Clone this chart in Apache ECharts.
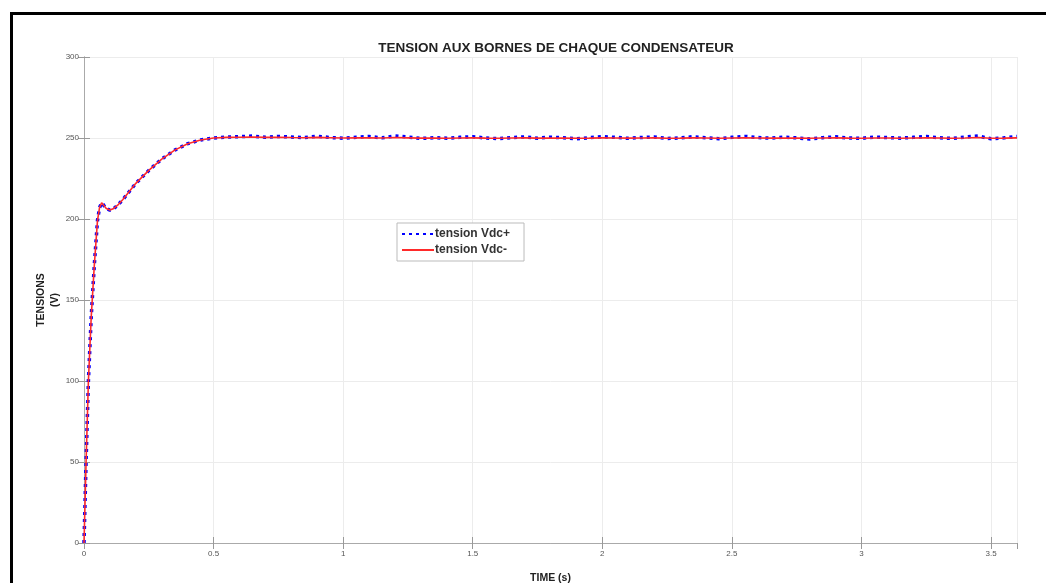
<!DOCTYPE html>
<html><head><meta charset="utf-8">
<script src="https://cdn.jsdelivr.net/npm/echarts@6/dist/echarts.min.js"></script>
<style>html,body{margin:0;padding:0;background:#fff}#c{width:1046px;height:583px}</style>
</head><body><div id="c"></div>
<script>
const chartTitle = 'TENSION AUX BORNES DE CHAQUE CONDENSATEUR';
const seriesNames = ['tension Vdc+', 'tension Vdc-'];
const time = [0,0.008,0.017,0.028,0.04,0.052,0.06,0.068,0.076,0.086,0.1,0.115,0.13,0.15,0.2,0.25,0.3,0.35,0.4,0.45,0.5,0.55,
  0.6,0.65,0.7,0.75,0.8,0.85,0.9,0.95,1,1.05,
  1.1,1.15,1.2,1.25,1.3,1.35,1.4,1.45,1.5,1.55,
  1.6,1.65,1.7,1.75,1.8,1.85,1.9,1.95,2,2.05,
  2.1,2.15,2.2,2.25,2.3,2.35,2.4,2.45,2.5,2.55,
  2.6,2.65,2.7,2.75,2.8,2.85,2.9,2.95,3,3.05,
  3.1,3.15,3.2,3.25,3.3,3.35,3.4,3.45,3.5,3.55,
  3.6];
const vdcPlus = [0,50,100,140,172,199,207,210,208.5,206.5,205.5,206.5,208.5,212,222,230,237,242.5,246.5,248.8,250,250.6,
  250.8,251.2,250.4,251.0,250.6,250.2,251.1,250.3,249.8,250.5,
  250.9,250.1,251.3,250.6,249.7,250.2,249.9,250.4,250.8,250.0,
  249.6,250.3,250.7,249.9,250.5,250.1,249.5,250.2,250.9,250.4,
  249.8,250.3,250.6,249.7,250.0,250.8,250.2,249.6,250.4,251.0,
  250.3,249.9,250.5,250.1,249.4,250.2,250.7,250.0,249.8,250.6,
  250.3,249.9,250.4,250.9,250.2,249.7,250.6,251.2,249.5,250.1,
  250.9];
const vdcMinus = [0,50,100,140,172,199,207,210,208.5,206.5,205.5,206.5,208.5,212,222,230,237,242.5,246.5,248.8,250,250.4,
  250.5,250.6,250.4,250.5,250.3,250.2,250.4,250.2,250.0,250.1,
  250.2,250.0,250.3,250.1,249.9,250.0,249.8,250.0,250.1,249.9,
  249.8,250.0,250.1,249.9,250.0,249.9,249.8,249.9,250.1,250.0,
  249.9,250.0,250.1,249.8,249.9,250.1,250.0,249.8,250.0,250.2,
  250.0,249.9,250.0,249.9,249.8,250.0,250.1,249.9,249.8,250.0,
  250.0,249.8,250.0,250.2,250.0,249.8,250.0,250.3,249.8,249.9,
  250.1];
const xName = 'TIME (s)';
const yName = 'TENSIONS\n(V)';

const chart = echarts.init(document.getElementById('c'), null, {renderer: 'canvas'});
const grid = {left: 84, right: 29, top: 57, bottom: 40, containLabel: false, outerBoundsMode: 'none'};
const labelStyle = {fontSize: 8, color: '#555', fontFamily: 'Liberation Sans, Arial, sans-serif'};
chart.setOption({
  animation: false,
  backgroundColor: '#fff',
  title: {text: chartTitle, left: 551, top: 36, textAlign: 'center',
    textStyle: {fontSize: 13.5, fontWeight: 'bold', color: '#222', fontFamily: 'Liberation Sans, Arial, sans-serif'}},
  graphic: [{type: 'rect', left: 9, top: 11, shape: {width: 1200, height: 800},
    style: {fill: null, stroke: '#000', lineWidth: 3}, silent: true}],
  legend: {
    left: 397, top: 223, orient: 'vertical', itemGap: 4, itemWidth: 32, itemHeight: 12,
    padding: [5, 14, 5, 4], borderColor: '#bbb', borderWidth: 1, backgroundColor: '#fff',
    itemStyle: {opacity: 0},
    textStyle: {fontSize: 12, fontWeight: 'bold', color: '#333', fontFamily: 'Liberation Sans, Arial, sans-serif', padding: [0, 0, 0, -4]},
    data: seriesNames
  },
  grid: grid,
  xAxis: [{
    type: 'value', min: 0, max: 3.6, interval: 0.5,
    name: xName, nameLocation: 'middle', nameGap: 30, nameMoveOverlap: false,
    nameTextStyle: {fontSize: 10.5, fontWeight: 'bold', color: '#222', fontFamily: 'Liberation Sans, Arial, sans-serif'},
    axisLine: {show: true, lineStyle: {color: '#aaa', width: 1}},
    axisTick: {show: true, inside: true, length: 6, lineStyle: {color: '#999'}},
    axisLabel: Object.assign({margin: 7, showMaxLabel: false}, labelStyle),
    splitLine: {show: true, lineStyle: {color: '#ececec', width: 1}}
  }, {
    type: 'value', min: 0, max: 3.6, interval: 0.5, position: 'top',
    axisLine: {show: true, lineStyle: {color: '#aaa', width: 1}},
    axisTick: {show: true, inside: true, length: 6, lineStyle: {color: '#999'}},
    axisLabel: {show: false}, splitLine: {show: false}
  }],
  yAxis: [{
    type: 'value', min: 0, max: 300, interval: 50,
    name: yName, nameLocation: 'middle', nameGap: 22, nameRotate: 90, nameMoveOverlap: false,
    nameTextStyle: {fontSize: 10.5, fontWeight: 'bold', color: '#222', lineHeight: 14, fontFamily: 'Liberation Sans, Arial, sans-serif'},
    axisLine: {show: true, lineStyle: {color: '#aaa', width: 1}},
    axisTick: {show: true, inside: true, length: 6, lineStyle: {color: '#999'}},
    axisLabel: Object.assign({margin: 5}, labelStyle),
    splitLine: {show: true, lineStyle: {color: '#ececec', width: 1}}
  }, {
    type: 'value', min: 0, max: 300, interval: 50, position: 'right',
    axisLine: {show: true, lineStyle: {color: '#aaa', width: 1}},
    axisTick: {show: true, inside: true, length: 6, lineStyle: {color: '#999'}},
    axisLabel: {show: false}, splitLine: {show: false}
  }],
  series: [{
    name: seriesNames[0], type: 'line', showSymbol: false, symbol: 'none',
    data: time.map((t, i) => [t, vdcPlus[i]]),
    itemStyle: {color: '#0000ff'},
    lineStyle: {color: '#0000ff', width: 3.5, type: [3, 4], cap: 'butt'}
  }, {
    name: seriesNames[1], type: 'line', showSymbol: false, symbol: 'none',
    data: time.map((t, i) => [t, vdcMinus[i]]),
    itemStyle: {color: '#ff2a2a'},
    lineStyle: {color: '#ff2a2a', width: 1.6}
  }]
});
</script></body></html>
